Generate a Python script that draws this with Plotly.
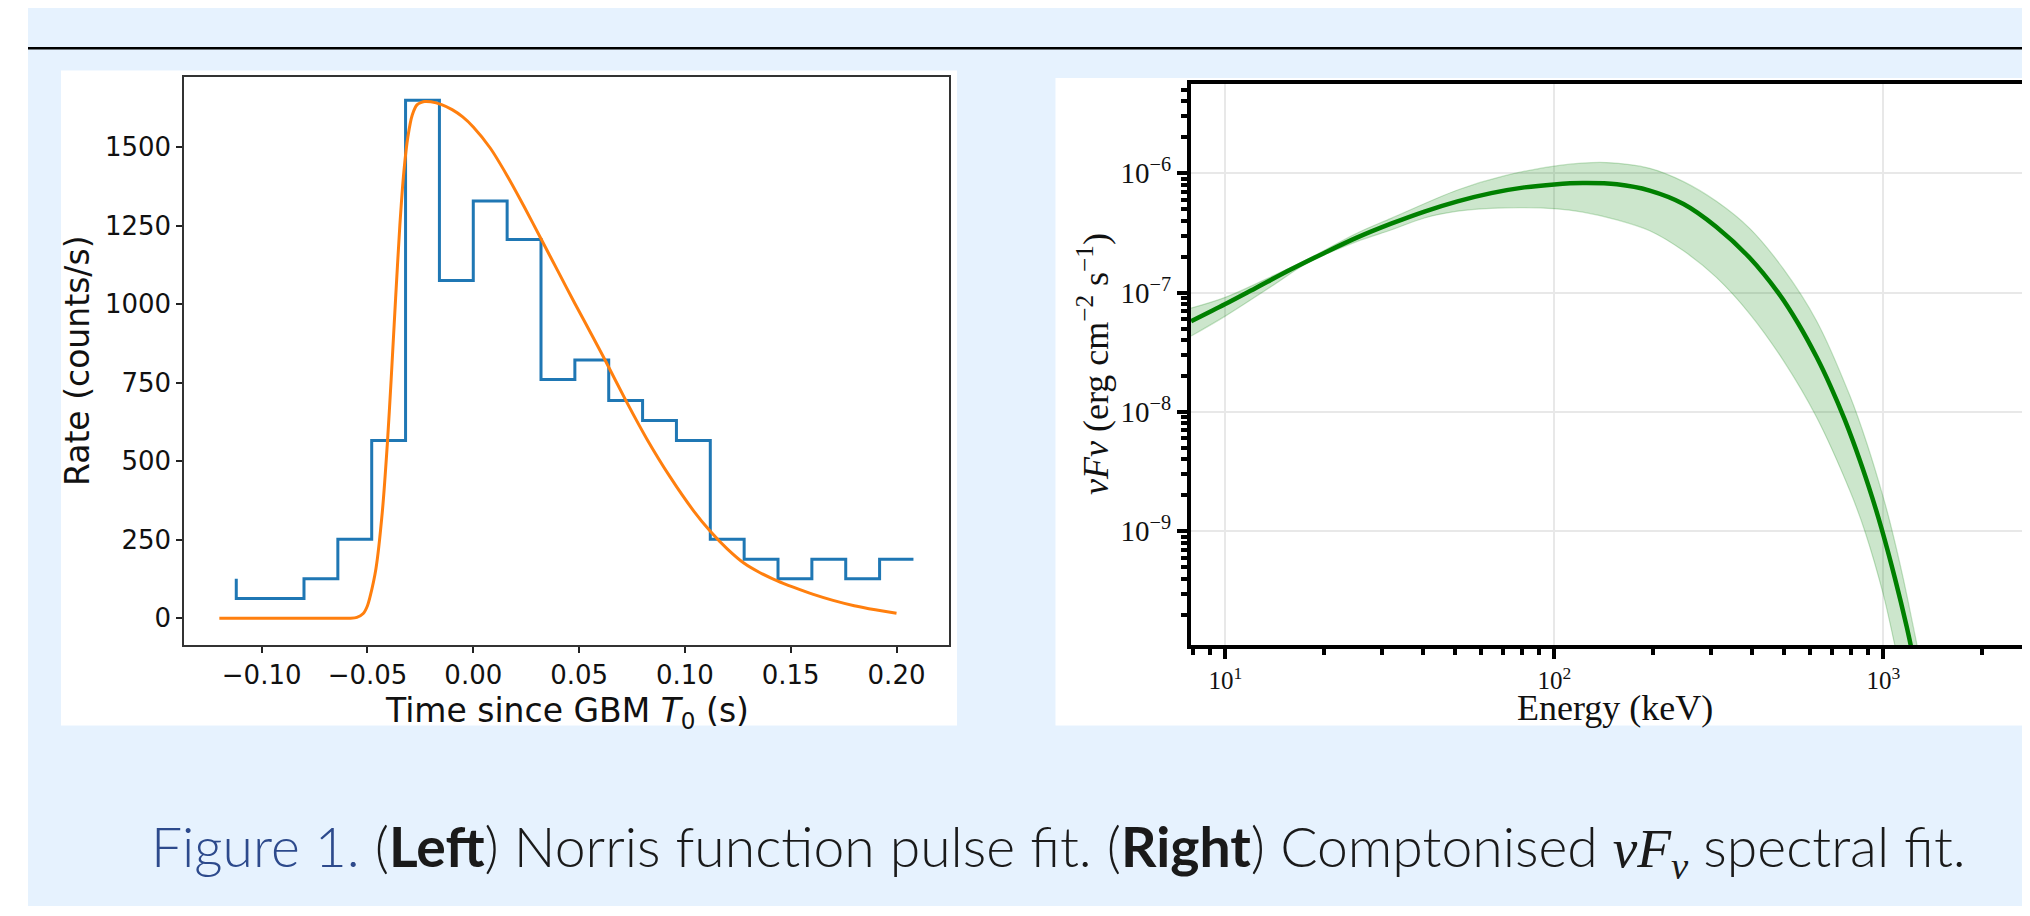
import plotly.graph_objects as go

# page is 2030x916; the html body adds an 8px margin, so the figure is
# made 8px smaller on each axis and all page positions are offset by 8px
OFF = 8
W, H = 2030 - OFF, 916 - OFF

# ---------------- data: left panel (light curve) ----------------
time_edges = [-0.112, -0.096, -0.080, -0.064, -0.048, -0.032, -0.016, 0.000,
              0.016, 0.032, 0.048, 0.064, 0.080, 0.096, 0.112, 0.128,
              0.144, 0.160, 0.176, 0.192, 0.208]
binned_rate = [126, 63, 63, 126, 252, 566, 1649, 1075, 1328, 1206, 760,
               822, 693, 630, 566, 252, 188, 126, 188, 126, 188]

norris_t = [-0.120, -0.100, -0.080, -0.065, -0.058, -0.055, -0.052, -0.050,
            -0.0488, -0.0460, -0.0430, -0.0406, -0.0388, -0.0367, -0.0347,
            -0.0328, -0.0309, -0.0288, -0.0265, -0.0245, -0.0230, -0.020,
            -0.015, -0.010, -0.005, 0.000, 0.008, 0.016, 0.024, 0.032,
            0.040, 0.048, 0.056, 0.0622, 0.0725, 0.082, 0.093, 0.104, 0.112,
            0.120, 0.128, 0.1355, 0.1434, 0.1512, 0.1607, 0.170, 0.180,
            0.190, 0.200]
norris_rate = [0, 0, 0, 0, 0.5, 3, 15, 40, 68, 158, 338, 557, 761, 1019,
               1251, 1422, 1533, 1603, 1635, 1642, 1645, 1644, 1635, 1619,
               1596, 1564, 1497, 1409, 1311, 1208, 1105, 1002, 902, 823, 688,
               571, 450, 343, 277, 221, 175, 145, 120, 99, 76, 57, 40, 27, 16]

time_ticks = [-0.10, -0.05, 0.00, 0.05, 0.10, 0.15, 0.20]
rate_ticks = [0, 250, 500, 750, 1000, 1250, 1500]

# ---------------- data: right panel (nuFnu spectrum) ----------------
spec_energy = [7.87, 10.0, 12.5, 15.8, 20.0, 25.2, 31.9, 40.3, 50.8, 64.3,
               81.1, 100, 122, 155, 195, 247, 311, 393, 479, 550, 627, 692,
               764, 849, 923, 989, 1084, 1178, 1230]
spec_flux = [5.75e-8, 8.02e-8, 1.11e-7, 1.56e-7, 2.15e-7, 2.90e-7, 3.78e-7,
             4.78e-7, 5.82e-7, 6.82e-7, 7.62e-7, 8.07e-7, 8.28e-7, 8.09e-7,
             7.16e-7, 5.53e-7, 3.55e-7, 1.95e-7, 1.00e-7, 5.56e-8, 2.88e-8,
             1.63e-8, 8.57e-9, 3.92e-9, 1.96e-9, 1.04e-9, 4.06e-10,
             1.58e-10, 9.1e-11]

band_hi_energy = [7.87, 10, 14.1, 17.8, 25.2, 31.9, 50.8, 70.8, 105, 144, 195,
                  247, 311, 393, 497, 627, 791, 891, 1000, 1047, 1148, 1247,
                  1274]
band_hi_flux = [7.41e-8, 9.12e-8, 1.40e-7, 1.91e-7, 3.16e-7, 4.19e-7, 7.24e-7,
                9.55e-7, 1.17e-6, 1.23e-6, 1.10e-6, 8.51e-7, 5.82e-7, 3.44e-7,
                1.58e-7, 5.79e-8, 1.37e-8, 5.46e-9, 1.92e-9, 1.20e-9,
                4.10e-10, 1.37e-10, 1.02e-10]

band_lo_energy = [7.87, 10, 14.1, 17.8, 25.2, 31.9, 40.3, 50.8, 64.3, 81.1,
                  100, 122, 155, 195, 247, 311, 393, 497, 627, 791, 879, 1000,
                  1084, 1110]
band_lo_flux = [4.32e-8, 6.35e-8, 1.17e-7, 1.78e-7, 2.69e-7, 3.35e-7, 4.22e-7,
                4.81e-7, 5.09e-7, 5.16e-7, 5.05e-7, 4.73e-7, 4.07e-7, 3.30e-7,
                2.24e-7, 1.34e-7, 6.61e-8, 2.69e-8, 9.02e-9, 2.19e-9, 1.0e-9,
                2.95e-10, 1.11e-10, 8.3e-11]

energy_ticks = [10, 100, 1000]
energy_ticktext = ["10<sup>1</sup>", "10<sup>2</sup>", "10<sup>3</sup>"]
flux_ticks = [1e-9, 1e-8, 1e-7, 1e-6]
flux_ticktext = ["10<sup>−9</sup>", "10<sup>−8</sup>", "10<sup>−7</sup>",
                 "10<sup>−6</sup>"]
energy_minor = [8, 9, 20, 30, 40, 50, 60, 70, 80, 90, 200, 300, 400, 500,
                600, 700, 800, 900, 2000]
flux_minor = [m * 10.0 ** e for e in range(-10, -5) for m in range(2, 10)]

caption = ('<span style="color:#2D4A8C">Figure 1.</span> (<b>Left</b>) Norris '
           'function pulse fit. (<b>Right</b>) Comptonised '
           '<span style="font-family:\'Liberation Serif\'"><i>νF</i><sub><i>ν</i></sub></span>'
           ' spectral fit.')


def px(x):
    return (x - OFF) / W


def py(y):
    return 1 - (y - OFF) / H


fig = go.Figure()

fig.add_trace(go.Scatter(x=time_edges, y=binned_rate, mode="lines",
                         line=dict(color="#1f77b4", width=3, shape="vh",
                                   simplify=False),
                         xaxis="x", yaxis="y", hoverinfo="skip"))
fig.add_trace(go.Scatter(x=norris_t, y=norris_rate, mode="lines",
                         line=dict(color="#ff7f0e", width=3, shape="spline",
                                   smoothing=0.6, simplify=False),
                         xaxis="x", yaxis="y", hoverinfo="skip"))

fig.add_trace(go.Scatter(x=band_lo_energy, y=band_lo_flux, mode="lines",
                         line=dict(color="rgba(0,128,0,0.22)", width=1.2,
                                   shape="spline", smoothing=0.9,
                                   simplify=False),
                         xaxis="x2", yaxis="y2", hoverinfo="skip"))
fig.add_trace(go.Scatter(x=band_hi_energy, y=band_hi_flux, mode="lines",
                         fill="tonexty", fillcolor="rgba(0,128,0,0.2)",
                         line=dict(color="rgba(0,128,0,0.22)", width=1.2,
                                   shape="spline", smoothing=0.9,
                                   simplify=False),
                         xaxis="x2", yaxis="y2", hoverinfo="skip"))
fig.add_trace(go.Scatter(x=spec_energy, y=spec_flux, mode="lines",
                         line=dict(color="#008000", width=4.5, shape="spline",
                                   smoothing=0.9, simplify=False),
                         xaxis="x2", yaxis="y2", hoverinfo="skip"))

sans = "DejaVu Sans"
serif = "Liberation Serif"

shapes = [
    dict(type="rect", xref="paper", yref="paper", x0=px(28), x1=1.0,
         y0=py(906), y1=py(2), fillcolor="#E6F2FE", line=dict(width=0),
         layer="below"),
    dict(type="line", xref="paper", yref="paper", x0=px(28), x1=1.0,
         y0=py(48.2), y1=py(48.2), line=dict(color="black", width=2.4),
         layer="below"),
    dict(type="rect", xref="paper", yref="paper", x0=px(61), x1=px(957),
         y0=py(725.5), y1=py(70.5), fillcolor="white", line=dict(width=0),
         layer="below"),
    dict(type="rect", xref="paper", yref="paper", x0=px(1055.5), x1=1.0,
         y0=py(725.5), y1=py(78), fillcolor="white", line=dict(width=0),
         layer="below"),
]

annotations = [
    dict(text="Rate (counts/s)", x=px(77), y=py(361), xref="paper",
         yref="paper", showarrow=False, textangle=-90, xanchor="center",
         yanchor="middle", font=dict(family=sans, size=33, color="#111")),
    dict(text="Time since GBM <i>T</i><sub>0</sub> (s)", x=px(567), y=py(712),
         xref="paper", yref="paper", showarrow=False, xanchor="center",
         yanchor="middle", font=dict(family=sans, size=33, color="#111")),
    dict(text="<i>νFν</i> (erg cm<sup>−2</sup> s<sup>−1</sup>)", x=px(1094),
         y=py(364), xref="paper", yref="paper", showarrow=False,
         textangle=-90, xanchor="center", yanchor="middle",
         font=dict(family=serif, size=36, color="#111")),
    dict(text="Energy (keV)", x=px(1615), y=py(708), xref="paper",
         yref="paper", showarrow=False, xanchor="center", yanchor="middle",
         font=dict(family=serif, size=36, color="#111")),
    dict(text=caption, x=px(149), y=py(849), xref="paper", yref="paper",
         xanchor="left", yanchor="middle", showarrow=False,
         font=dict(family="Lato", size=55.3, color="#1a1a1a", weight=300)),
]

fig.update_layout(
    width=W, height=H, margin=dict(l=0, r=0, t=0, b=0),
    paper_bgcolor="white", plot_bgcolor="white", showlegend=False,
    shapes=shapes, annotations=annotations,
    xaxis=dict(domain=[px(184), px(949)], range=[-0.1367, 0.2248],
               anchor="y", tickmode="array", tickvals=time_ticks,
               tickformat=".2f", ticks="outside", ticklen=6, tickwidth=1.5,
               tickcolor="#222", showline=True, mirror=True,
               linecolor="#333", linewidth=1.5, showgrid=False,
               zeroline=False, tickfont=dict(family=sans, size=26,
                                             color="#111")),
    yaxis=dict(domain=[py(645), py(77)], range=[-85, 1723], anchor="x",
               tickmode="array", tickvals=rate_ticks, ticks="outside",
               ticklen=6, tickwidth=1.5, tickcolor="#222", showline=True,
               mirror=True, linecolor="#333", linewidth=1.5, showgrid=False,
               zeroline=False, tickfont=dict(family=sans, size=26,
                                             color="#111")),
    xaxis2=dict(type="log", domain=[px(1191), 1.0], range=[0.8957, 3.4459],
                anchor="y2", tickmode="array", tickvals=energy_ticks,
                ticktext=energy_ticktext, ticks="outside", ticklen=10,
                tickwidth=3.5, tickcolor="black", showline=True, mirror=True,
                linecolor="black", linewidth=4, showgrid=True,
                gridcolor="#e8e8e8", gridwidth=2.2, zeroline=False,
                tickfont=dict(family=serif, size=25, color="#111"),
                minor=dict(tickmode="array", tickvals=energy_minor,
                           ticks="outside", ticklen=6, tickwidth=3.5,
                           tickcolor="black", showgrid=False)),
    yaxis2=dict(type="log", domain=[py(645), py(84)], range=[-9.954, -5.2515],
                anchor="x2", tickmode="array", tickvals=flux_ticks,
                ticktext=flux_ticktext, ticks="outside", ticklen=10,
                tickwidth=3.5, tickcolor="black", showline=True, mirror=False,
                linecolor="black", linewidth=4, showgrid=True,
                gridcolor="#e8e8e8", gridwidth=2.2, zeroline=False,
                tickfont=dict(family=serif, size=29, color="#111"),
                minor=dict(tickmode="array", tickvals=flux_minor,
                           ticks="outside", ticklen=6, tickwidth=3.5,
                           tickcolor="black", showgrid=False)),
)

fig.write_html("out.html")
